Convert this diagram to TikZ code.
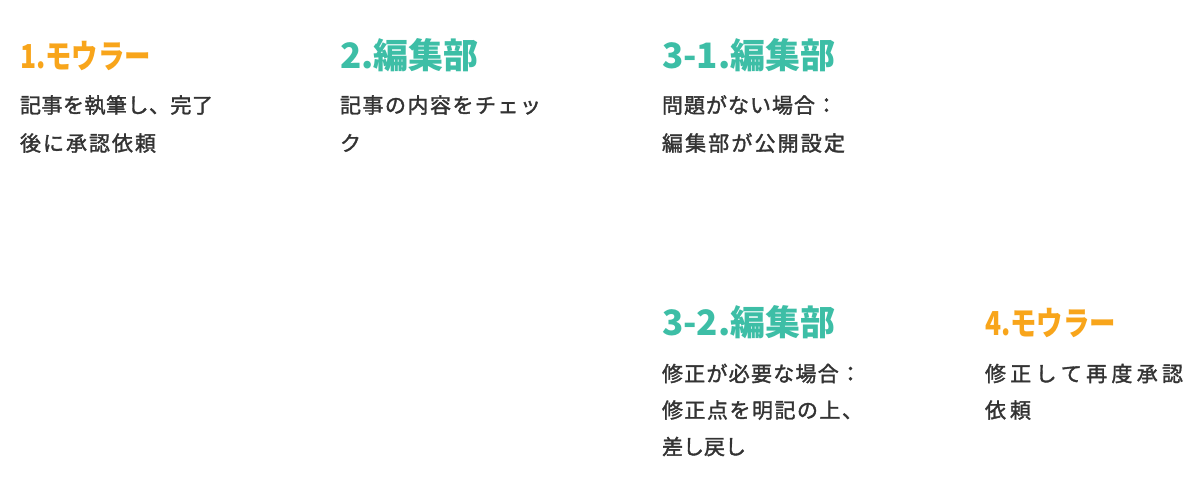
\documentclass[tikz,border=0pt]{standalone}
\usepackage{fontspec}
\usepackage{graphicx}
\newfontfamily\jp{Noto Sans CJK JP}
\newfontfamily\jpm{Noto Sans CJK JP}[FakeBold=1.6]
\definecolor{moorange}{HTML}{F8A51B}
\definecolor{edteal}{HTML}{3DBEA6}
\definecolor{bodytext}{HTML}{333333}
\def\spreadit#1{\ifx#1\relax\else\hfill#1\expandafter\spreadit\fi}
\def\spreadfirst#1{#1\spreadit}
\newcommand\sline[2]{\hbox to #1{\spreadfirst#2\relax}}
\tikzset{
  base/.style={anchor=base west, inner sep=0pt, outer sep=0pt},
  headorange/.style={base, text=moorange, font=\jp\bfseries\fontsize{33}{33}\selectfont},
  headteal/.style={base, text=edteal, font=\jp\bfseries\fontsize{35}{35}\selectfont},
  bodyline/.style={base, text=bodytext, font=\jpm\fontsize{21}{21}\selectfont},
}
\begin{document}
\begin{tikzpicture}[x=1pt,y=-1pt]
\useasboundingbox[fill=white] (0,0) rectangle (1200,496);
% block 1
\node[headorange] (h1) at (20,68) {\resizebox{131pt}{\height}{1.モウラー}};
\node[bodyline] (b1a) at (20,113) {\sline{193pt}{記事を執筆し、完了}};
\node[bodyline] (b1b) at (20,151) {\sline{136pt}{後に承認依頼}};
% block 2
\node[headteal] (h2) at (340,68) {2.編集部};
\node[bodyline] (b2a) at (340,113) {\sline{201pt}{記事の内容をチェッ}};
\node[bodyline] (b2b) at (340,151) {ク};
% block 3-1
\node[headteal] (h31) at (662,68) {3-1.編集部};
\node[bodyline] (b31a) at (662,113) {\sline{175pt}{問題がない場合：}};
\node[bodyline] (b31b) at (662,151) {\sline{183pt}{編集部が公開設定}};
% block 3-2
\node[headteal] (h32) at (662,335) {3-2.編集部};
\node[bodyline] (b32a) at (662,381.5) {\sline{199pt}{修正が必要な場合：}};
\node[bodyline] (b32b) at (662,418) {\sline{201pt}{修正点を明記の上、}};
\node[bodyline] (b32c) at (662,454.5) {\sline{84pt}{差し戻し}};
% block 4
\node[headorange] (h4) at (985,335) {\resizebox{131pt}{\height}{4.モウラー}};
\node[bodyline] (b4a) at (985,381.5) {\sline{198pt}{修正して再度承認}};
\node[bodyline] (b4b) at (985,418) {\sline{46pt}{依頼}};
\end{tikzpicture}
\end{document}
